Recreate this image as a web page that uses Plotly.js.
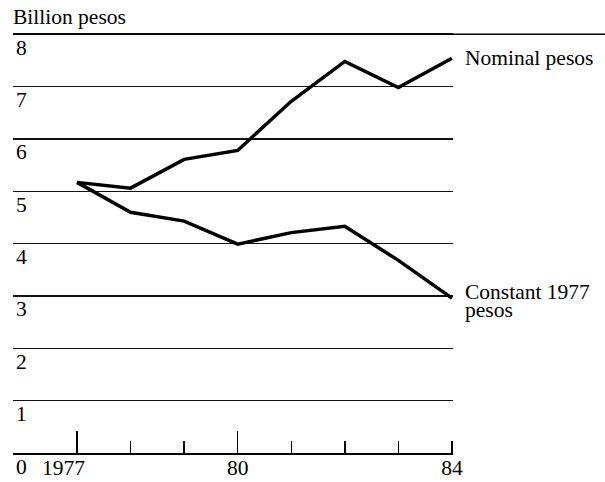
<!DOCTYPE html>
<html>
<head>
<meta charset="utf-8">
<script src="https://cdn.plot.ly/plotly-3.0.1.min.js"></script>
<style>html,body{margin:0;padding:0;background:#fff;}#chart{width:605px;height:482px;}</style>
</head>
<body>
<div id="chart"></div>
<script>
const years = [1977, 1978, 1979, 1980, 1981, 1982, 1983, 1984];
const nominalPesos = [5.17, 5.06, 5.61, 5.78, 6.72, 7.48, 6.98, 7.54];
const constantPesos = [5.17, 4.60, 4.43, 3.99, 4.21, 4.33, 3.68, 2.96];
const xTickLabels = ['1977\u00a0\u00a0\u00a0\u00a0\u00a0', '', '', '80', '', '', '', '84'];
const majorTickYears = [1977, 1980];
const yTickVals = [0, 1, 2, 3, 4, 5, 6, 7, 8];
const seriesNames = ['Nominal pesos', 'Constant 1977', 'pesos'];

const FONT = 'Liberation Serif, Times New Roman, serif';
const FS = 21.5;
const xRange = [1975.805, 1984.02];

const traces = [
  {x: years, y: nominalPesos, mode: 'lines', line: {color: '#000', width: 3.5}, hoverinfo: 'skip', showlegend: false},
  {x: years, y: constantPesos, mode: 'lines', line: {color: '#000', width: 3.5}, hoverinfo: 'skip', showlegend: false},
  {x: [], y: [], xaxis: 'x2', mode: 'lines', hoverinfo: 'skip', showlegend: false}
];

const layout = {
  width: 605, height: 482,
  margin: {l: 13, r: 152, t: 29, b: 29, pad: 0},
  paper_bgcolor: '#fff', plot_bgcolor: '#fff',
  font: {family: FONT, size: FS, color: '#000'},
  title: {text: 'Billion pesos', x: 13/605, xref: 'container', xanchor: 'left', y: 1 - 16/482, yref: 'container', yanchor: 'middle', font: {family: FONT, size: FS, color: '#000'}},
  xaxis: {
    range: xRange, tickvals: years, ticktext: xTickLabels,
    ticks: 'inside', ticklen: 12, tickwidth: 1.5, tickcolor: '#000',
    showline: true, linecolor: '#000', linewidth: 1.5,
    showgrid: false, zeroline: false,
    tickfont: {family: FONT, size: FS, color: '#000'}, ticklabelstandoff: -5
  },
  xaxis2: {
    range: xRange, overlaying: 'x', anchor: 'y', side: 'bottom',
    tickvals: majorTickYears, ticks: 'inside', ticklen: 22, tickwidth: 1.5, tickcolor: '#000',
    showticklabels: false, showline: false, showgrid: false, zeroline: false
  },
  yaxis: {
    range: [0, 8.1], tickvals: yTickVals, ticktext: yTickVals.map(String),
    showgrid: true, gridcolor: '#111', gridwidth: 1.5,
    zeroline: false, showline: false, ticks: '',
    ticklabelposition: 'inside', ticklabelshift: 13, ticklabelstandoff: 0,
    ticklabeloverflow: 'allow',
    tickfont: {family: FONT, size: FS, color: '#000'}
  },
  shapes: [
    {type: 'line', xref: 'paper', yref: 'y', x0: 0, x1: 592/440, y0: 8, y1: 8, line: {color: '#000', width: 1.5}}
  ],
  annotations: [
    {x: years[7], y: nominalPesos[7], xref: 'x', yref: 'y', text: seriesNames[0], showarrow: false, xanchor: 'left', yanchor: 'middle', xshift: 11, yshift: 0, font: {family: FONT, size: FS, color: '#000'}},
    {x: years[7], y: constantPesos[7], xref: 'x', yref: 'y', text: seriesNames[1], showarrow: false, xanchor: 'left', yanchor: 'middle', xshift: 11, yshift: 6, font: {family: FONT, size: FS, color: '#000'}},
    {x: years[7], y: constantPesos[7], xref: 'x', yref: 'y', text: seriesNames[2], showarrow: false, xanchor: 'left', yanchor: 'middle', xshift: 11, yshift: -12, font: {family: FONT, size: FS, color: '#000'}}
  ]
};

Plotly.newPlot('chart', traces, layout, {displayModeBar: false, staticPlot: true});
</script>
</body>
</html>
